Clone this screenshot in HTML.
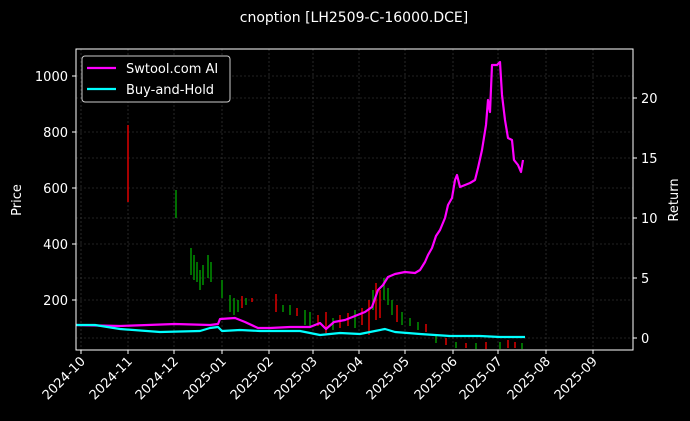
<!DOCTYPE html>
<html><head><style>
body{margin:0;background:#000;}
svg{display:block;font-family:"DejaVu Sans","Liberation Sans",sans-serif;}
</style></head><body>
<svg width="690" height="421" viewBox="0 0 690 421" xmlns="http://www.w3.org/2000/svg">
<rect width="690" height="421" fill="#000"/>
<text x="354" y="22" fill="#fff" font-size="14" text-anchor="middle">cnoption [LH2509-C-16000.DCE]</text>
<g stroke="#444" stroke-width="0.6" stroke-dasharray="2,2">
<line x1="81" y1="49" x2="81" y2="350"/><line x1="128" y1="49" x2="128" y2="350"/><line x1="174" y1="49" x2="174" y2="350"/><line x1="222" y1="49" x2="222" y2="350"/><line x1="269" y1="49" x2="269" y2="350"/><line x1="313" y1="49" x2="313" y2="350"/><line x1="359" y1="49" x2="359" y2="350"/><line x1="405" y1="49" x2="405" y2="350"/><line x1="453" y1="49" x2="453" y2="350"/><line x1="498" y1="49" x2="498" y2="350"/><line x1="546" y1="49" x2="546" y2="350"/><line x1="593" y1="49" x2="593" y2="350"/>
<line x1="76" y1="76" x2="633" y2="76"/><line x1="76" y1="132" x2="633" y2="132"/><line x1="76" y1="188" x2="633" y2="188"/><line x1="76" y1="244" x2="633" y2="244"/><line x1="76" y1="300" x2="633" y2="300"/>
<line x1="76" y1="98" x2="633" y2="98"/><line x1="76" y1="158" x2="633" y2="158"/><line x1="76" y1="218" x2="633" y2="218"/><line x1="76" y1="278" x2="633" y2="278"/><line x1="76" y1="338" x2="633" y2="338"/>
</g>
<g stroke-width="1.3">
<line x1="128" y1="125" x2="128" y2="202" stroke="#f00"/>
<line x1="176" y1="190" x2="176" y2="218" stroke="#0a0"/>
<line x1="191" y1="248" x2="191" y2="275" stroke="#0a0"/><line x1="194" y1="255" x2="194" y2="280" stroke="#0a0"/><line x1="197" y1="262" x2="197" y2="282" stroke="#0a0"/><line x1="200" y1="270" x2="200" y2="290" stroke="#0a0"/><line x1="203" y1="265" x2="203" y2="285" stroke="#0a0"/><line x1="208" y1="255" x2="208" y2="278" stroke="#0a0"/><line x1="211" y1="262" x2="211" y2="282" stroke="#0a0"/>
<line x1="222" y1="280" x2="222" y2="298" stroke="#0a0"/><line x1="230" y1="295" x2="230" y2="312" stroke="#0a0"/><line x1="234" y1="298" x2="234" y2="315" stroke="#0a0"/><line x1="238" y1="300" x2="238" y2="312" stroke="#0a0"/><line x1="242" y1="296" x2="242" y2="308" stroke="#f00"/><line x1="246" y1="298" x2="246" y2="305" stroke="#0a0"/><line x1="252" y1="298" x2="252" y2="302" stroke="#f00"/>
<line x1="276" y1="294" x2="276" y2="312" stroke="#f00"/><line x1="283" y1="305" x2="283" y2="312" stroke="#0a0"/><line x1="290" y1="305" x2="290" y2="315" stroke="#0a0"/><line x1="297" y1="308" x2="297" y2="316" stroke="#f00"/><line x1="305" y1="310" x2="305" y2="325" stroke="#0a0"/><line x1="310" y1="312" x2="310" y2="328" stroke="#0a0"/>
<line x1="318" y1="315" x2="318" y2="326" stroke="#f00"/><line x1="326" y1="312" x2="326" y2="333" stroke="#f00"/><line x1="333" y1="318" x2="333" y2="330" stroke="#0a0"/><line x1="340" y1="315" x2="340" y2="328" stroke="#f00"/><line x1="348" y1="313" x2="348" y2="326" stroke="#f00"/><line x1="355" y1="310" x2="355" y2="328" stroke="#0a0"/>
<line x1="362" y1="308" x2="362" y2="325" stroke="#f00"/><line x1="369" y1="300" x2="369" y2="335" stroke="#f00"/><line x1="373" y1="290" x2="373" y2="310" stroke="#0a0"/><line x1="376" y1="283" x2="376" y2="320" stroke="#f00"/><line x1="380" y1="290" x2="380" y2="318" stroke="#f00"/><line x1="384" y1="278" x2="384" y2="300" stroke="#0a0"/><line x1="388" y1="288" x2="388" y2="305" stroke="#0a0"/><line x1="392" y1="300" x2="392" y2="315" stroke="#0a0"/><line x1="397" y1="305" x2="397" y2="322" stroke="#f00"/><line x1="402" y1="312" x2="402" y2="325" stroke="#0a0"/><line x1="410" y1="318" x2="410" y2="326" stroke="#0a0"/><line x1="418" y1="322" x2="418" y2="330" stroke="#0a0"/><line x1="426" y1="324" x2="426" y2="332" stroke="#f00"/>
<line x1="436" y1="335" x2="436" y2="343" stroke="#0a0"/><line x1="446" y1="338" x2="446" y2="345" stroke="#f00"/><line x1="456" y1="342" x2="456" y2="348" stroke="#0a0"/><line x1="466" y1="343" x2="466" y2="348" stroke="#f00"/><line x1="476" y1="343" x2="476" y2="349" stroke="#0a0"/><line x1="486" y1="342" x2="486" y2="349" stroke="#f00"/><line x1="500" y1="342" x2="500" y2="349" stroke="#0a0"/><line x1="508" y1="340" x2="508" y2="348" stroke="#f00"/><line x1="515" y1="342" x2="515" y2="348" stroke="#f00"/><line x1="522" y1="343" x2="522" y2="349" stroke="#0a0"/>
</g>
<polyline fill="none" stroke="#ff00ff" stroke-width="2.2" stroke-linejoin="round" points="76,325 120,326 175,324 210,325 218,324 220,319 235,318 245,322 258,328 270,328 290,327 310,327 320,323 326,329 334,322 345,320 355,316 365,312 372,307 378,290 383,285 388,277 395,274 405,272 415,273 420,270 425,262 428,255 432,248 436,236 440,230 445,218 448,205 452,198 455,180 457,175 460,187 465,185 470,183 475,180 478,168 482,150 486,125 488,100 490,112 492,65 497,65 500,62 502,95 505,120 508,138 512,140 514,160 518,165 521,172 523,160"/>
<polyline fill="none" stroke="#00ffff" stroke-width="2.2" stroke-linejoin="round" points="76,325 95,325 120,329 160,332 200,331 210,328 218,327 222,331 240,330 260,331 300,331 320,335 340,333 360,334 375,331 385,329 395,332 420,334 450,336 480,336 500,337 525,337"/>
<rect x="76" y="49" width="557" height="301" fill="none" stroke="#fff" stroke-width="1"/>
<g stroke="#fff" stroke-width="1">
<line x1="72" y1="76" x2="76" y2="76"/><line x1="72" y1="132" x2="76" y2="132"/><line x1="72" y1="188" x2="76" y2="188"/><line x1="72" y1="244" x2="76" y2="244"/><line x1="72" y1="300" x2="76" y2="300"/>
<line x1="633" y1="98" x2="637" y2="98"/><line x1="633" y1="158" x2="637" y2="158"/><line x1="633" y1="218" x2="637" y2="218"/><line x1="633" y1="278" x2="637" y2="278"/><line x1="633" y1="338" x2="637" y2="338"/>
<line x1="81" y1="350" x2="81" y2="354"/><line x1="128" y1="350" x2="128" y2="354"/><line x1="174" y1="350" x2="174" y2="354"/><line x1="222" y1="350" x2="222" y2="354"/><line x1="269" y1="350" x2="269" y2="354"/><line x1="313" y1="350" x2="313" y2="354"/><line x1="359" y1="350" x2="359" y2="354"/><line x1="405" y1="350" x2="405" y2="354"/><line x1="453" y1="350" x2="453" y2="354"/><line x1="498" y1="350" x2="498" y2="354"/><line x1="546" y1="350" x2="546" y2="354"/><line x1="593" y1="350" x2="593" y2="354"/>
</g>
<g fill="#fff" font-size="13" text-anchor="end">
<text x="68" y="81">1000</text><text x="68" y="137">800</text><text x="68" y="193">600</text><text x="68" y="249">400</text><text x="68" y="305">200</text>
</g>
<g fill="#fff" font-size="13">
<text x="641" y="103">20</text><text x="641" y="163">15</text><text x="641" y="223">10</text><text x="641" y="283">5</text><text x="641" y="343">0</text>
</g>
<g fill="#fff" font-size="13" text-anchor="end">
<text transform="translate(86,362) rotate(-45)">2024-10</text>
<text transform="translate(133,362) rotate(-45)">2024-11</text>
<text transform="translate(179,362) rotate(-45)">2024-12</text>
<text transform="translate(227,362) rotate(-45)">2025-01</text>
<text transform="translate(274,362) rotate(-45)">2025-02</text>
<text transform="translate(318,362) rotate(-45)">2025-03</text>
<text transform="translate(364,362) rotate(-45)">2025-04</text>
<text transform="translate(410,362) rotate(-45)">2025-05</text>
<text transform="translate(458,362) rotate(-45)">2025-06</text>
<text transform="translate(503,362) rotate(-45)">2025-07</text>
<text transform="translate(551,362) rotate(-45)">2025-08</text>
<text transform="translate(598,362) rotate(-45)">2025-09</text>
</g>
<text transform="translate(21,200) rotate(-90)" fill="#fff" font-size="13" text-anchor="middle">Price</text>
<text transform="translate(678,200) rotate(-90)" fill="#fff" font-size="13" text-anchor="middle">Return</text>
<rect x="82" y="56" width="148" height="46" rx="3" fill="#000" stroke="#ccc" stroke-width="1"/>
<line x1="87" y1="68" x2="116" y2="68" stroke="#ff00ff" stroke-width="2.2"/>
<line x1="87" y1="89" x2="116" y2="89" stroke="#00ffff" stroke-width="2.2"/>
<text x="126" y="73" fill="#fff" font-size="13">Swtool.com AI</text>
<text x="126" y="94" fill="#fff" font-size="13">Buy-and-Hold</text>
</svg>
</body></html>
